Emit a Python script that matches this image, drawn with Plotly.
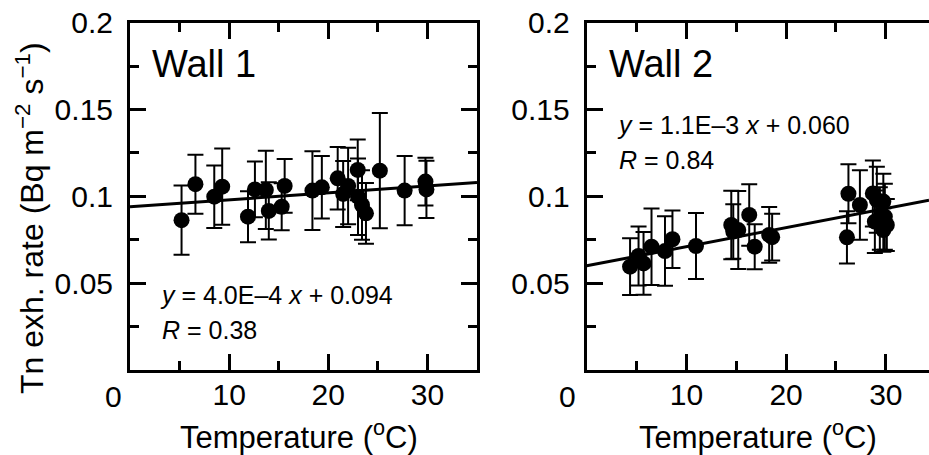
import plotly.graph_objects as go

# ---- Wall 1 data ----
w1_temp = [5.2, 6.6, 8.5, 9.3, 11.9, 12.6, 13.7, 14.0, 15.3, 15.6, 18.4, 19.35,
           20.95, 21.5, 22.0, 22.97, 23.0, 23.4, 23.8, 25.2, 27.7, 29.8, 29.9]
w1_rate = [0.0863, 0.107, 0.0998, 0.1056, 0.0883, 0.104, 0.1037, 0.0916, 0.094,
           0.106, 0.1033, 0.1052, 0.1104, 0.1014, 0.106, 0.1152, 0.0998, 0.095,
           0.0902, 0.1148, 0.1033, 0.1085, 0.104]
w1_err = [0.020, 0.017, 0.018, 0.022, 0.0147, 0.016, 0.0225, 0.0165, 0.0135,
          0.0155, 0.0227, 0.018, 0.018, 0.019, 0.022, 0.0175, 0.022, 0.020,
          0.0175, 0.0332, 0.020, 0.0137, 0.0165]
w1_slope, w1_intercept = 4.0e-4, 0.094

# ---- Wall 2 data ----
w2_temp = [4.35, 5.2, 5.7, 6.5, 7.85, 8.6, 10.96, 14.5, 14.7, 15.2, 16.3, 16.85,
           18.3, 18.6, 26.25, 26.1, 27.4, 28.7, 29.1, 29.75, 28.9, 29.4, 29.9,
           29.75, 30.1]
w2_rate = [0.0595, 0.0657, 0.0614, 0.071, 0.0685, 0.0753, 0.0714, 0.0835, 0.0797,
           0.0806, 0.0893, 0.071, 0.0778, 0.0765, 0.1015, 0.0764, 0.095, 0.1017,
           0.098, 0.097, 0.0854, 0.0873, 0.0883, 0.0806, 0.0835]
w2_err = [0.0163, 0.017, 0.018, 0.022, 0.020, 0.0165, 0.019, 0.0197, 0.0157,
          0.0225, 0.0177, 0.013, 0.016, 0.0135, 0.017, 0.015, 0.020, 0.019,
          0.019, 0.016, 0.018, 0.018, 0.019, 0.0125, 0.015]
w2_slope, w2_intercept = 1.1e-3, 0.060

x_ticks = [10, 20, 30]
x_ticktext = ["10", "20", "30"]
y_ticks = [0.05, 0.1, 0.15, 0.2]
y_ticktext = ["0.05", "0.1", "0.15", "0.2"]

FONT = "Liberation Sans, Arial, sans-serif"
W, H = 929, 455

fig = go.Figure()

def add_panel(temp, rate, err, slope, intercept, xa, ya, xmax):
    lx = [0, xmax]
    ly = [intercept + slope * v for v in lx]
    fig.add_trace(go.Scatter(x=lx, y=ly, mode="lines", xaxis=xa, yaxis=ya,
                             line=dict(color="black", width=3), showlegend=False,
                             hoverinfo="skip"))
    fig.add_trace(go.Scatter(x=temp, y=rate, mode="markers", xaxis=xa, yaxis=ya,
                             marker=dict(color="black", size=16),
                             error_y=dict(type="data", array=err, visible=True,
                                          color="black", thickness=2, width=8),
                             showlegend=False))

add_panel(w1_temp, w1_rate, w1_err, w1_slope, w1_intercept, "x", "y", 35)
X2MAX = 34.33
add_panel(w2_temp, w2_rate, w2_err, w2_slope, w2_intercept, "x2", "y2", X2MAX)

ydom = [1 - 370 / H, 1 - 22.7 / H]

common_x = dict(tickvals=x_ticks, ticktext=x_ticktext, ticks="inside", ticklen=16,
                tickwidth=3, tickcolor="black", showline=True, linewidth=3,
                linecolor="black", showgrid=False, zeroline=False,
                tickfont=dict(family=FONT, size=30, color="black"),
                minor=dict(dtick=5, tick0=0, ticks="inside", ticklen=9, tickwidth=2.5,
                           tickcolor="black", showgrid=False),
                automargin=False, fixedrange=True, ticklabelstandoff=-4)
common_y = dict(range=[0, 0.2], tickvals=y_ticks, ticktext=y_ticktext, ticks="inside",
                ticklen=16, tickwidth=3, tickcolor="black", showline=True, linewidth=3,
                linecolor="black", showgrid=False, zeroline=False,
                tickfont=dict(family=FONT, size=30, color="black"),
                minor=dict(dtick=0.025, tick0=0, ticks="inside", ticklen=9,
                           tickwidth=2.5, tickcolor="black", showgrid=False),
                automargin=False, fixedrange=True, ticklabelstandoff=8)

fig.update_layout(
    width=W, height=H, margin=dict(l=0, r=0, t=0, b=0),
    paper_bgcolor="white", plot_bgcolor="white",
    font=dict(family=FONT, color="black"),
    xaxis=dict(domain=[130 / W, 477 / W], range=[0, 35], anchor="y", mirror="ticks",
               **common_x),
    yaxis=dict(domain=ydom, anchor="x", mirror="ticks", **common_y),
    xaxis2=dict(domain=[586.7 / W, 1.0], range=[0, X2MAX], anchor="y2", mirror="ticks",
                **common_x),
    yaxis2=dict(domain=ydom, anchor="x2", mirror=False, **common_y),
)

def ann(text, x, y, size, xanchor="left", yanchor="middle", angle=0):
    fig.add_annotation(text=text, x=x / W, y=1 - y / H, xref="paper", yref="paper",
                       showarrow=False, xanchor=xanchor, yanchor=yanchor,
                       textangle=angle, font=dict(family=FONT, size=size, color="black"))

# x "0" labels shifted left
ann("0", 113, 396, 30, xanchor="center")
ann("0", 567, 396, 30, xanchor="center")

# panel titles
ann("Wall 1", 150, 64.5, 38)
ann("Wall 2", 607, 64.5, 38)

# equations
ann("<i>y</i> = 4.0E\u20134 <i>x</i> + 0.094", 158, 294.6, 25)
ann("<i>R</i> = 0.38", 160, 329.6, 25)
ann("<i>y</i> = 1.1E\u20133 <i>x</i> + 0.060", 615, 124.6, 25)
ann("<i>R</i> = 0.84", 617, 159.6, 25)

# axis titles
ann("Temperature (<sup>o</sup>C)", 299, 435, 31, xanchor="center")
ann("Temperature (<sup>o</sup>C)", 758, 435, 31, xanchor="center")
ann("Tn exh. rate (Bq m<sup>\u22122</sup> s<sup>\u22121</sup>)", 30, 218, 32,
    xanchor="center", angle=-90)

fig.write_html("out.html",
               config={"displayModeBar": False},
               post_script="document.body.style.margin='0';"
                           "document.body.style.overflow='hidden';")
